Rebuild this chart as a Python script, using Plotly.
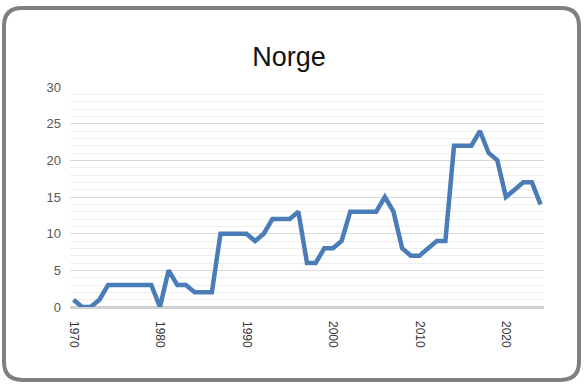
import plotly.graph_objects as go

# ---- data ----
title_text = "Norge"
years = list(range(1970, 2025))
values = [1, 0, 0, 1, 3, 3, 3, 3, 3, 3,
          0, 5, 3, 3, 2, 2, 2, 10, 10, 10,
          10, 9, 10, 12, 12, 12, 13, 6, 6, 8,
          8, 9, 13, 13, 13, 13, 15, 13, 8, 7,
          7, 8, 9, 9, 22, 22, 22, 24, 21, 20,
          15, 16, 17, 17, 14]
x_tick_vals = [1970, 1980, 1990, 2000, 2010, 2020]
x_tick_text = ["1970", "1980", "1990", "2000", "2010", "2020"]
y_tick_vals = [0, 5, 10, 15, 20, 25, 30]

# ---- layout geometry (pixels) ----
W, H = 588, 386
L, R, T, B = 70, 544, 87, 306.7


def px_to_paper(px, py):
    return (px - L) / (R - L), (B - py) / (B - T)


def rounded_rect_path(x0, y0, x1, y1, r):
    def P(x, y):
        a, b = px_to_paper(x, y)
        return f"{a:.5f},{b:.5f}"
    return (f"M {P(x0 + r, y0)} L {P(x1 - r, y0)} Q {P(x1, y0)} {P(x1, y0 + r)} "
            f"L {P(x1, y1 - r)} Q {P(x1, y1)} {P(x1 - r, y1)} "
            f"L {P(x0 + r, y1)} Q {P(x0, y1)} {P(x0, y1 - r)} "
            f"L {P(x0, y0 + r)} Q {P(x0, y0)} {P(x0 + r, y0)} Z")


fig = go.Figure()
fig.add_trace(go.Scatter(
    x=years, y=values, mode="lines",
    line=dict(color="#4a7cb8", width=4.5),
    hoverinfo="x+y", showlegend=False,
))

fig.update_layout(
    width=W, height=H,
    margin=dict(l=L, r=W - R, t=T, b=H - B, pad=0),
    paper_bgcolor="white", plot_bgcolor="white",
    title=dict(text=title_text, x=289 / W, xanchor="center",
               y=1 - 57 / H, yanchor="middle", yref="container",
               font=dict(family="Liberation Sans, Arial", size=27, color="#111111")),
    xaxis=dict(range=[1969.6, 2024.4], tickvals=x_tick_vals, ticktext=x_tick_text,
               tickangle=90, showgrid=False, zeroline=False, showline=False,
               ticks="", ticklabelstandoff=13,
               tickfont=dict(family="Liberation Sans, Arial", size=12, color="#333333")),
    yaxis=dict(range=[0, 30], tickvals=y_tick_vals, showgrid=True, gridcolor="#d9d9d9", gridwidth=1,
               zeroline=True, zerolinecolor="#d0d0d0", zerolinewidth=2.5,
               minor=dict(dtick=1, showgrid=True, gridcolor="#eeeeee", gridwidth=1),
               ticks="", ticklabelstandoff=8,
               tickfont=dict(family="Liberation Sans, Arial", size=13, color="#595959")),
    shapes=[dict(type="path", xref="paper", yref="paper",
                 path=rounded_rect_path(4, 8, 579, 379.5, 18),
                 line=dict(color="#7f7f7f", width=4), fillcolor="rgba(0,0,0,0)", layer="above")],
)

fig.write_html("out.html", config={"displayModeBar": False},
               post_script="document.body.style.margin='0';document.body.style.overflow='hidden';")
